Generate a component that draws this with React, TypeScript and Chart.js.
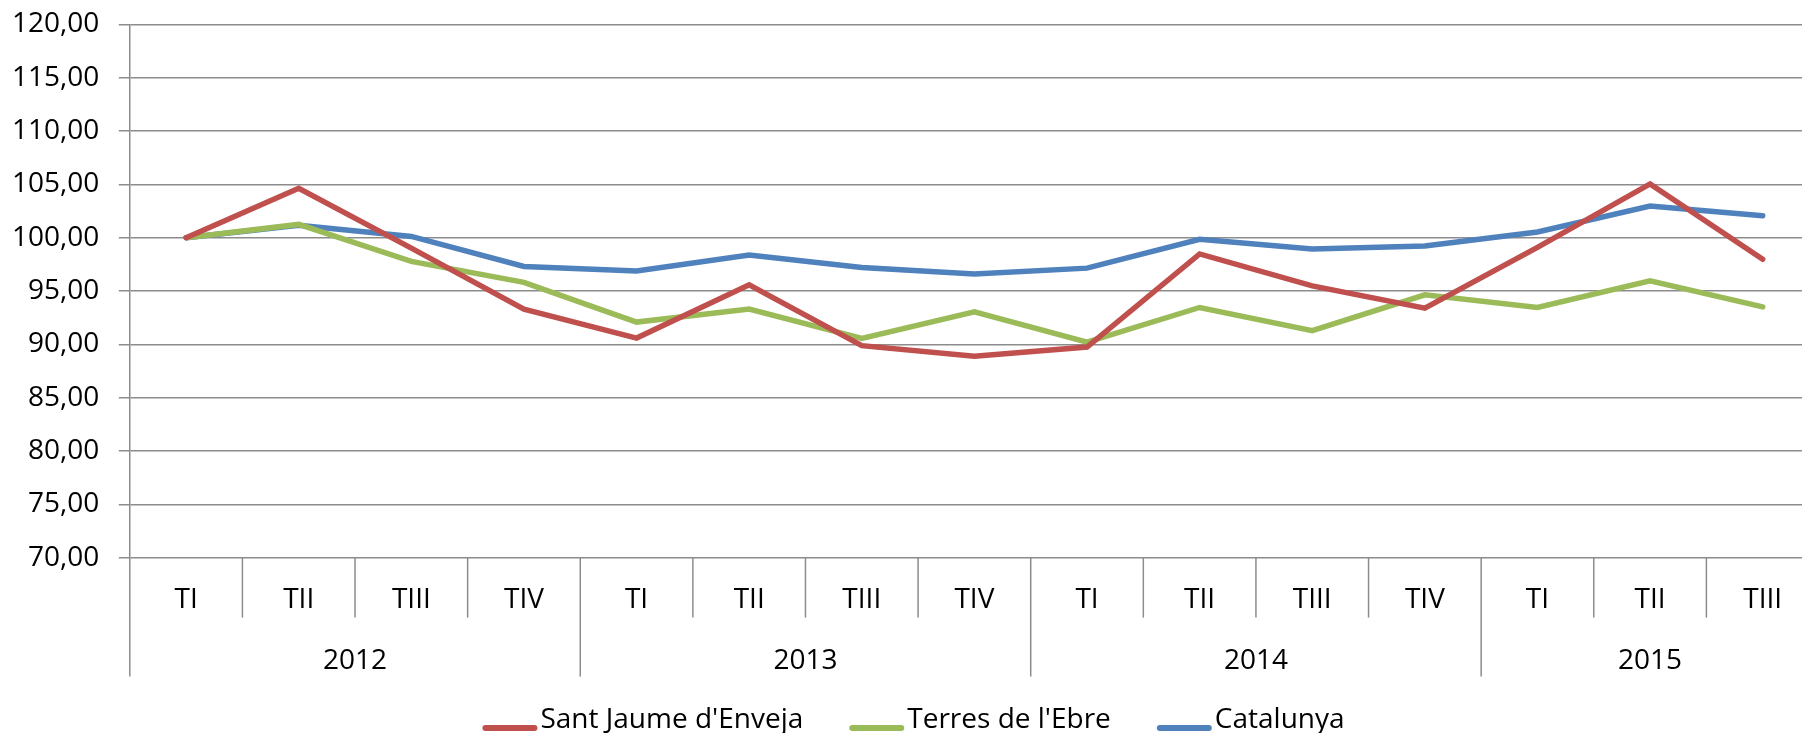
import React, { useEffect, useRef } from 'react';
import { Chart, registerables } from 'chart.js';

Chart.register(...registerables);

const quarters = ['TI', 'TII', 'TIII', 'TIV', 'TI', 'TII', 'TIII', 'TIV', 'TI', 'TII', 'TIII', 'TIV', 'TI', 'TII', 'TIII'];
const years = ['2012', '2013', '2014', '2015'];
const quartersPerYear = [4, 4, 4, 3];

const santJaume = [100, 104.64, 99.03, 93.31, 90.59, 95.58, 89.88, 88.88, 89.75, 98.48, 95.49, 93.4, 99.1, 105.05, 97.98];
const terresEbre = [100, 101.25, 97.78, 95.81, 92.09, 93.31, 90.56, 93.06, 90.2, 93.46, 91.28, 94.65, 93.46, 95.96, 93.52];
const catalunya = [100, 101.16, 100.12, 97.31, 96.89, 98.39, 97.2, 96.61, 97.15, 99.86, 98.95, 99.23, 100.54, 102.97, 102.06];

const seriesNames = ["Sant Jaume d'Enveja", "Terres de l'Ebre", 'Catalunya'];
const seriesColors = ['#C0504D', '#9BBB59', '#4F81BD'];

const yMin = 70;
const yMax = 120;
const yStep = 5;

const FONT = "'Open Sans', sans-serif";
const FONT_SIZE = 28;
const GRID = '#8c8c8c';

const CANVAS_W = 1826;
const CANVAS_H = 736;
const LEGEND_BOX = 44;
const LEGEND_PAD = 46;

const yearGroupPlugin = {
  id: 'yearGroups',
  afterDraw(chart: any) {
    const xs = chart.scales.x;
    const ctx = chart.ctx;
    const bottom = chart.chartArea.bottom;
    const n = quarters.length;
    const step = xs.getPixelForValue(1) - xs.getPixelForValue(0);
    const starts = new Set<number>();
    let acc = 0;
    for (const q of quartersPerYear) {
      starts.add(acc);
      acc += q;
    }
    starts.add(acc);
    ctx.save();
    ctx.strokeStyle = GRID;
    ctx.lineWidth = 1.5;
    for (let i = 0; i <= n; i++) {
      const x = i < n ? xs.getPixelForValue(i) - step / 2 : xs.getPixelForValue(n - 1) + step / 2;
      const len = starts.has(i) ? 119 : 60;
      ctx.beginPath();
      ctx.moveTo(x, bottom);
      ctx.lineTo(x, bottom + len);
      ctx.stroke();
    }
    ctx.fillStyle = '#000';
    ctx.font = `${FONT_SIZE}px ${FONT}`;
    ctx.textAlign = 'center';
    ctx.textBaseline = 'middle';
    acc = 0;
    years.forEach((yr, k) => {
      const a = xs.getPixelForValue(acc);
      const b = xs.getPixelForValue(acc + quartersPerYear[k] - 1);
      ctx.fillText(yr, (a + b) / 2, bottom + 103);
      acc += quartersPerYear[k];
    });

    // legend line samples, placed from the legend's own layout
    const lg = chart.legend;
    if (lg && lg.legendHitBoxes) {
      ctx.lineCap = 'round';
      ctx.lineWidth = 6;
      lg.legendHitBoxes.forEach((hb: any, i: number) => {
        const textX = hb.left + LEGEND_BOX + FONT_SIZE / 2;
        const y = hb.top + hb.height / 2 + 8;
        ctx.strokeStyle = seriesColors[i];
        ctx.beginPath();
        ctx.moveTo(textX - 58 + 3, y);
        ctx.lineTo(textX - 3 - 3, y);
        ctx.stroke();
      });
    }
    ctx.restore();
  },
};

export default function App() {
  const ref = useRef<HTMLCanvasElement | null>(null);

  useEffect(() => {
    if (!ref.current) return;
    const values = [santJaume, terresEbre, catalunya];
    const chart = new Chart(ref.current, {
      type: 'line',
      data: {
        labels: quarters,
        datasets: values.map((v, i) => ({
          label: seriesNames[i],
          data: v,
          borderColor: seriesColors[i],
          backgroundColor: seriesColors[i],
          borderWidth: 5.5,
          borderCapStyle: 'round' as const,
          borderJoinStyle: 'miter' as const,
          pointRadius: 0,
          tension: 0,
          fill: false,
        })),
      },
      options: {
        responsive: false,
        animation: false,
        devicePixelRatio: 1,
        layout: { padding: { top: 16.5, right: 15, left: 0, bottom: 0 } },
        font: { family: FONT, size: FONT_SIZE },
        plugins: {
          tooltip: { enabled: false },
          legend: {
            position: 'bottom',
            labels: {
              color: '#000',
              font: { family: FONT, size: FONT_SIZE },
              boxWidth: LEGEND_BOX,
              boxHeight: 6,
              padding: LEGEND_PAD,
              generateLabels: (c: any) =>
                c.data.datasets.map((ds: any, i: number) => ({
                  text: ds.label,
                  fillStyle: 'rgba(0,0,0,0)',
                  strokeStyle: 'rgba(0,0,0,0)',
                  lineWidth: 0,
                  hidden: false,
                  datasetIndex: i,
                  fontColor: '#000',
                })),
            },
          },
        },
        scales: {
          x: {
            type: 'category',
            offset: true,
            grid: { display: false, drawTicks: false },
            border: { display: false },
            ticks: {
              color: '#000',
              font: { family: FONT, size: FONT_SIZE },
              padding: 26,
              maxRotation: 0,
              autoSkip: false,
            },
            afterFit: (scale: any) => {
              scale.height = 102.4;
            },
          },
          y: {
            min: yMin,
            max: yMax,
            grid: { color: GRID, lineWidth: 1.5, drawTicks: true, tickLength: 11 },
            border: { display: true, color: GRID, width: 1.5 },
            ticks: {
              stepSize: yStep,
              color: '#000',
              font: { family: FONT, size: FONT_SIZE },
              padding: 19.5,
              callback: (v: any) => Number(v).toFixed(2).replace('.', ','),
            },
            afterFit: (scale: any) => {
              scale.width = 121.8;
              scale.paddingTop = 0;
              scale.paddingBottom = 0;
            },
          },
        },
      },
      plugins: [yearGroupPlugin],
    } as any);
    return () => chart.destroy();
  }, []);

  return (
    <div
      style={{
        position: 'fixed',
        left: 0,
        top: 0,
        width: 1802,
        height: 733,
        overflow: 'hidden',
        background: '#fff',
      }}
    >
      <canvas
        ref={ref}
        width={CANVAS_W}
        height={CANVAS_H}
        style={{ position: 'absolute', left: 8, top: 8, width: CANVAS_W, height: CANVAS_H }}
      />
    </div>
  );
}
